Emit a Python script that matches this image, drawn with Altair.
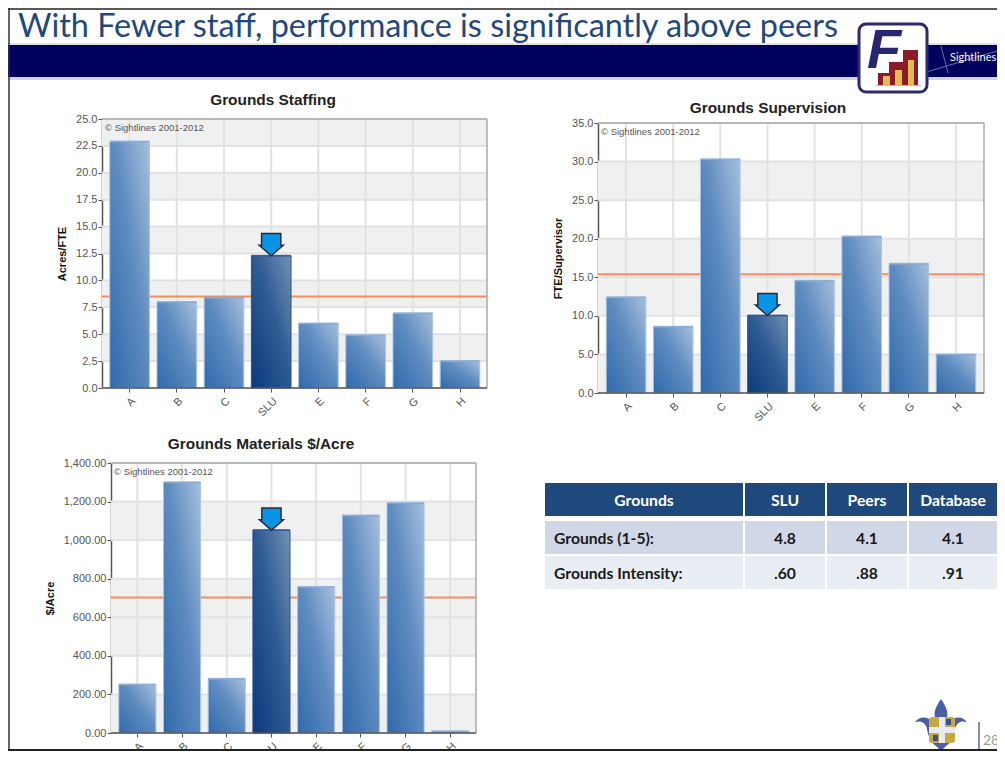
import altair as alt
import pandas as pd

categories = ["A", "B", "C", "SLU", "E", "F", "G", "H"]
staffing_values = [22.9, 8.0, 8.4, 12.3, 6.0, 4.9, 6.95, 2.5]
supervision_values = [12.4, 8.6, 30.3, 10.05, 14.55, 20.3, 16.75, 5.0]
materials_values = [251, 1300, 281, 1052, 757, 1128, 1192, 9]
staffing_avg = 8.5
supervision_avg = 15.4
materials_avg = 703
staffing_ticks = [0, 2.5, 5, 7.5, 10, 12.5, 15, 17.5, 20, 22.5, 25]
supervision_ticks = [0, 5, 10, 15, 20, 25, 30, 35]
materials_ticks = [0, 200, 400, 600, 800, 1000, 1200, 1400]
staffing_bands = [(22.5, 25), (17.5, 20), (12.5, 15), (7.5, 10), (2.5, 5)]
supervision_bands = [(25, 30), (15, 20), (10, 15), (0, 5)]
materials_bands = [(1000, 1200), (600, 800), (400, 600), (0, 200)]
table_header = ["Grounds", "SLU", "Peers", "Database"]
table_row1 = ["Grounds (1-5):", "4.8", "4.1", "4.1"]
table_row2 = ["Grounds Intensity:", ".60", ".88", ".91"]
page_title = "With Fewer staff, performance is significantly above peers"

SANS = "Liberation Sans"
ONE = pd.DataFrame({"k": [0]})
NORMAL = {"gradient": "linear", "x1": 0, "y1": 1, "x2": 1, "y2": 0,
          "stops": [{"offset": 0, "color": "#2f69ac"}, {"offset": 0.55, "color": "#5f8cc0"},
                    {"offset": 1, "color": "#a6bfde"}]}
DARK = {"gradient": "linear", "x1": 0, "y1": 1, "x2": 1, "y2": 0,
        "stops": [{"offset": 0, "color": "#0b3a7c"}, {"offset": 0.55, "color": "#2f5c94"},
                  {"offset": 1, "color": "#7391b5"}]}
ARROW = "M-0.8,-0.92 L0.8,-0.92 L0.8,0.05 L1,0.05 L0,0.92 L-1,0.05 L-0.8,0.05 Z"
FLEUR = ("M0,-1 C0.2,-0.7 0.3,-0.5 0.22,-0.25 L0.3,-0.1 C0.5,-0.35 0.85,-0.35 1,-0.1 "
         "C0.8,-0.2 0.62,-0.1 0.55,0.1 C0.5,0.4 0.4,0.7 0.2,0.8 L0,1 L-0.2,0.8 "
         "C-0.4,0.7 -0.5,0.4 -0.55,0.1 C-0.62,-0.1 -0.8,-0.2 -1,-0.1 "
         "C-0.85,-0.35 -0.5,-0.35 -0.3,-0.1 L-0.22,-0.25 C-0.3,-0.5 -0.2,-0.7 0,-1 Z")


def box(x1, y1, x2, y2, color, **kw):
    return alt.Chart(ONE).mark_rect(color=color, **kw).encode(
        x=alt.value(x1), x2=alt.value(x2), y=alt.value(y1), y2=alt.value(y2))


def label(x, y, text, **kw):
    return alt.Chart(ONE).mark_text(text=text, **kw).encode(x=alt.value(x), y=alt.value(y))


def line(x1, y1, x2, y2, color, width=1):
    return alt.Chart(ONE).mark_rule(color=color, strokeWidth=width).encode(
        x=alt.value(x1), x2=alt.value(x2), y=alt.value(y1), y2=alt.value(y2))


def panel(title, dx, offset, ytitle, values, avg, ticks, bands, fmt, width, height,
          left, xrange, yrange, inner, bar_w, copy_y):
    ymax = ticks[-1]
    df = pd.DataFrame({"cat": categories, "v": values})
    xs = alt.Scale(domain=categories, range=xrange, paddingInner=inner, paddingOuter=inner / 2)
    ys = alt.Scale(domain=[0, ymax], range=yrange, nice=False)
    x_axis = alt.Axis(labelAngle=-45, labelColor="#555555", labelFont=SANS, labelFontSize=11,
                      tickColor="#555555", tickSize=4, domain=False, grid=False, labelPadding=3,
                      title=None)
    y_axis = alt.Axis(values=ticks, format=fmt, labelColor="#555555", labelFont=SANS, labelFontSize=11,
                      tickColor="#555555", tickSize=4, labelPadding=1, domainColor="#555555",
                      domainWidth=1.5, grid=False, title=ytitle, titleFont=SANS, titleFontSize=11,
                      titleFontWeight="bold", titleColor="#111111", titlePadding=8, offset=-left)
    X = alt.X("cat:N", scale=xs, sort=categories, axis=x_axis)
    Y = lambda f: alt.Y(f, scale=ys, axis=y_axis)
    band_df = pd.DataFrame({"a": [b[0] for b in bands], "b": [b[1] for b in bands]})
    tick_df = pd.DataFrame({"t": ticks})
    right = width
    layers = [
        alt.Chart(band_df).mark_rect(color="#f0f0f0").encode(
            x=alt.value(left), x2=alt.value(right), y=Y("a:Q"), y2="b:Q"),
        alt.Chart(tick_df).mark_rule(color="#e2e2e2", strokeWidth=2).encode(
            x=alt.value(left), x2=alt.value(right), y=Y("t:Q")),
        alt.Chart(df).mark_rule(color="#e2e2e2", strokeWidth=2).encode(
            x=X, y=alt.value(yrange[1]), y2=alt.value(yrange[0])),
        alt.Chart(pd.DataFrame({"t": [avg]})).mark_rule(color="#f58b5e", strokeWidth=2).encode(
            x=alt.value(left), x2=alt.value(right), y=Y("t:Q")),
        alt.Chart(df).transform_filter("datum.cat !== 'SLU'").mark_bar(
            color=NORMAL, stroke="#a9c4e4", strokeWidth=1).encode(x=X, y=Y("v:Q")),
        alt.Chart(df).transform_filter("datum.cat === 'SLU'").mark_bar(
            color=DARK, stroke="#2a5590", strokeWidth=1).encode(x=X, y=Y("v:Q")),
        alt.Chart(df).transform_filter("datum.cat !== 'SLU'").mark_tick(
            color="#7fa6d4", thickness=2, size=bar_w).encode(x=X, y=Y("v:Q")),
        alt.Chart(df).transform_filter("datum.cat === 'SLU'").mark_tick(
            color="#2f5c96", thickness=2, size=bar_w).encode(x=X, y=Y("v:Q")),
        alt.Chart(df).transform_filter("datum.cat === 'SLU'").mark_point(
            shape=ARROW, size=576, filled=True, fill="#0a94e6", stroke="#2b2b3a", strokeWidth=1.5,
            opacity=1, yOffset=-11).encode(x=X, y=Y("v:Q")),
        alt.Chart(pd.DataFrame({"t": [ymax]})).mark_rule(color="#aaaaaa", strokeWidth=1.5).encode(
            x=alt.value(left), x2=alt.value(right), y=Y("t:Q")),
        alt.Chart(ONE).mark_rule(color="#aaaaaa", strokeWidth=1.5).encode(
            x=alt.value(right), y=alt.value(yrange[1]), y2=alt.value(yrange[0])),
        alt.Chart(pd.DataFrame({"t": [0]})).mark_rule(color="#555555", strokeWidth=1.5).encode(
            x=alt.value(left), x2=alt.value(right), y=Y("t:Q")),
        label(left + 3, copy_y, "\u00a9 Sightlines 2001-2012", font=SANS, fontSize=9.5,
              color="#555555", align="left", baseline="middle"),
    ]
    return alt.layer(*layers).properties(
        width=width, height=height,
        title=alt.TitleParams(title, anchor="middle", frame="group", dx=dx, offset=offset, font=SANS,
                              fontSize=15.4, fontWeight="bold", color="#222222"))


chart1 = panel("Grounds Staffing", -21.5, 5, "Acres/FTE", staffing_values, staffing_avg, staffing_ticks,
               staffing_bands, ".1f", 385, 269, 0, [4, 381.6], [269, 0], 0.16, 39.5, 9)
chart2 = panel("Grounds Supervision", -23, 1, "FTE/Supervisor", supervision_values, supervision_avg,
               supervision_ticks, supervision_bands, ".1f", 386, 274, 0, [4.5, 381.5], [274, 4], 0.16, 39.5, 13)
chart3 = panel("Grounds Materials $/Acre", -28, 5, "$/Acre", materials_values, materials_avg, materials_ticks,
               materials_bands, ",.2f", 374, 270, 9, [13, 370.6], [270, 0], 0.17, 37, 9)

# header panel: origin is page (102, 8)
OX, OY = 102, 8
RIGHT = 997
hdr = [
    box(8 - OX, 45 - OY, RIGHT - OX, 77 - OY, "#00005f"),
    box(8 - OX, 77 - OY, RIGHT - OX, 80 - OY, "#d4d4d4"),
    line(8 - OX, 44 - OY, RIGHT - OX, 44 - OY, "#c0c4d0", 1),
    line(8 - OX, 1, RIGHT - OX, 1, "#222222", 1.5),
    line(9 - OX, 0, 9 - OX, 751 - OY, "#333333", 1.5),
    label(18 - OX, 37 - OY, page_title, font="Lato", fontSize=32.4, color="#1f497d", align="left",
          baseline="alphabetic"),
    line(923 - OX, 73 - OY, RIGHT - OX, 51 - OY, "#6f6fa0", 1),
    line(941 - OX, 46 - OY, 948 - OX, 73 - OY, "#6f6fa0", 1),
    label(950 - OX, 58 - OY, "Sightlines", font="Lato", fontSize=11, color="#ffffff", align="left",
          baseline="middle"),
    box(859 - OX, 24 - OY, 927 - OX, 92 - OY, "#ffffff", stroke="#2d2a6e", strokeWidth=3, cornerRadius=7),
    label(884 - OX, 68 - OY, "F", font=SANS, fontSize=56, fontWeight="bold", fontStyle="italic",
          color="#27266e", align="center", baseline="alphabetic"),
    box(878 - OX, 73 - OY, 894 - OX, 85 - OY, "#8b1a2b"),
    box(889 - OX, 62 - OY, 906 - OX, 85 - OY, "#8b1a2b"),
    box(903 - OX, 50 - OY, 918 - OX, 85 - OY, "#8b1a2b"),
    box(883 - OX, 76 - OY, 890 - OX, 85 - OY, "#e3bb50"),
    box(895 - OX, 70 - OY, 902 - OX, 85 - OY, "#e3bb50"),
    box(908 - OX, 60 - OY, 914 - OX, 85 - OY, "#e3bb50"),
    box(876 - OX, 85 - OY, 921 - OX, 86 - OY, "#e3bb50"),
]
header = alt.layer(*hdr).properties(width=385, height=41)
spacer = box(0, 0, 10, 10, "#ffffff", opacity=0).properties(width=386, height=41)

# table panel: origin is page (598, 463)
TX, TY = 598, 463
edges = [(545, 743), (745, 825), (827, 907), (909, 997)]
rows = [(483, 516, "#1f497d", table_header, "#ffffff"),
        (521, 554, "#d0d8e8", table_row1, "#1a1a1a"),
        (556, 589, "#e9edf4", table_row2, "#1a1a1a")]
tbl = []
for (y1, y2, fill, texts, tc) in rows:
    for i, ((x1, x2), t) in enumerate(zip(edges, texts)):
        tbl.append(box(x1 - TX, y1 - TY, x2 - TX, y2 - TY, fill))
        left_aligned = (i == 0 and fill != "#1f497d")
        tx = (554 if left_aligned else (x1 + x2) / 2) - TX
        tbl.append(label(tx, (y1 + y2) / 2 + 1 - TY, t, font="Lato", fontSize=15.7, fontWeight="bold", color=tc,
                         align="left" if left_aligned else "center", baseline="middle"))
tbl += [
    alt.Chart(ONE).mark_point(shape=FLEUR, size=2704, filled=True, fill="#4a5fa8", opacity=1).encode(
        x=alt.value(941 - TX), y=alt.value(725 - TY)),
    box(929 - TX, 717 - TY, 955 - TX, 743 - TY, "#c8a83c", cornerRadius=3),
    box(939 - TX, 717 - TY, 945 - TX, 743 - TY, "#e8e8f0"),
    box(929 - TX, 727 - TY, 955 - TX, 733 - TY, "#e8e8f0"),
    box(933 - TX, 735 - TY, 938 - TX, 741 - TY, "#3c4f90"),
    box(946 - TX, 719 - TY, 951 - TX, 725 - TY, "#3c4f90"),
    line(979 - TX, 722 - TY, 979 - TX, 751 - TY, "#5a6a8a", 1.5),
    label(983 - TX, 745 - TY, "28", font="Lato", fontSize=14, color="#9a9a9a", align="left", baseline="alphabetic"),
    line(8 - TX, 750 - TY, RIGHT - TX, 750 - TY, "#222222", 2),
]
table = alt.layer(*tbl).properties(width=386, height=270)

chart = alt.concat(header, spacer, chart1, chart2, chart3, table, columns=2).properties(
    spacing={"row": 70, "column": 111}, bounds="flush", align="each", background="#ffffff",
    autosize=alt.AutoSizeParams(type="none"),
    padding={"left": 94, "top": 0, "right": 895, "bottom": 743},
).configure_view(stroke=None)
chart.save("out.html", embed_options={"renderer": "svg", "actions": False})
